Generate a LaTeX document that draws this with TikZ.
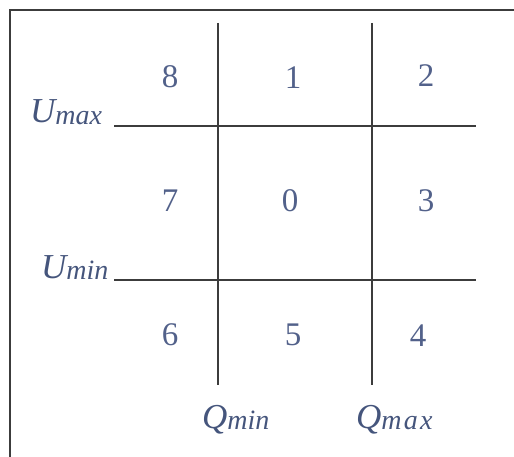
\documentclass[tikz,border=0pt]{standalone}
\usepackage{fontspec}
\setmainfont{Liberation Serif}
\usetikzlibrary{positioning}
\definecolor{inkblue}{HTML}{52618A}
\definecolor{labblue}{HTML}{45557C}
\definecolor{gridgray}{HTML}{3C3C3C}

\begin{document}
\begin{tikzpicture}[x=1pt,y=-1pt,
  every node/.style={inner sep=0pt,text=inkblue},
  num/.style={font=\fontsize{33}{33}\selectfont},
  lab/.style={text=labblue,font=\fontsize{35}{35}\selectfont\itshape},
  grid/.style={draw=gridgray,line width=1.3pt}]
\useasboundingbox (0,0) rectangle (514,457);
% frame
\draw[draw=gridgray,line width=2pt] (10,457) -- (10,10) -- (514,10);
% zone numbers
\foreach \lab/\x/\y in {8/170/77,1/293/78,2/426/76,7/170/201,0/290/201,3/426/201,6/170/335,5/293/335,4/418/336}
  \node[num] (z\lab) at (\x,\y) {\lab};
% threshold lines
\coordinate (qmint) at (218,23);
\coordinate (qminb) at (218,385);
\coordinate (qmaxt) at (372,23);
\coordinate (qmaxb) at (372,385);
\coordinate (umaxl) at (114,126);
\coordinate (umaxr) at (476,126);
\coordinate (uminl) at (114,280);
\coordinate (uminr) at (476,280);
\draw[grid] (qmint) -- (qminb);
\draw[grid] (qmaxt) -- (qmaxb);
\draw[grid] (umaxl) -- (umaxr);
\draw[grid] (uminl) -- (uminr);
% labels
\node[lab,anchor=base west] (umax) at (30,123) {U\raisebox{-2pt}{\fontsize{28}{28}\selectfont max}};
\node[lab,anchor=base west] (umin) at (41,278) {U\raisebox{-1pt}{\fontsize{28}{28}\selectfont min}};
\node[lab,anchor=base west] (qmin) at (202,428) {Q\raisebox{-1pt}{\fontsize{28}{28}\selectfont min}};
\node[lab,anchor=base west] (qmax) at (356,428) {Q\raisebox{-1pt}{\fontsize{28}{28}\selectfont\addfontfeature{LetterSpace=8} max}};
\end{tikzpicture}
\end{document}
